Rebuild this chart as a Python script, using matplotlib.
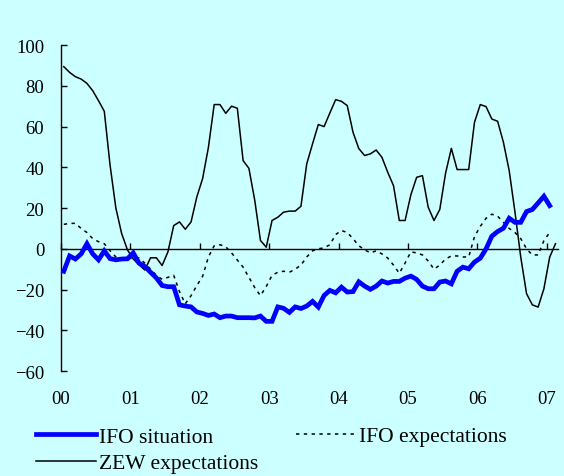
import matplotlib
matplotlib.use("Agg")
import matplotlib.pyplot as plt
import numpy as np

# Monthly data, Jan 2000 onwards
ifo_situation = [-11, -3.5, -5, -2.5, 2.5, -2.5, -5.4, -1, -4.8, -5.4, -5, -4.9,
                 -2, -7, -8.7, -11.5, -14.3, -18, -18.6, -18.6, -27.5, -28.1, -28.5, -31,
                 -31.7, -32.7, -32, -33.8, -33, -33, -33.8, -33.8, -33.8, -33.9, -33, -35.6,
                 -35.6, -28.5, -29.2, -31.2, -28.5, -29.3, -28.1, -25.8, -28.6, -22.9, -20.4, -21.6,
                 -18.8, -21.2, -21, -16.2, -18.3, -19.9, -18.3, -15.8, -16.8, -16, -16, -14.4,
                 -13.4, -15, -18.3, -19.6, -19.6, -16.3, -15.8, -17.2, -11, -9, -9.8, -6.5,
                 -4.6, 0, 6.2, 8.5, 10.1, 15, 13, 13, 18.3, 19.3, 22.5, 25.8,
                 21.2]
ifo_expectations = [12, 12.5, 12.5, 10, 8, 5, 3.5, 2.5, -1, -4, -5, -5,
                    -4.5, -4.5, -7, -10, -13, -15, -14, -13, -21, -27, -23, -18,
                    -13.5, -4, 1.5, 2, 1, -2, -5.5, -9, -14, -19, -23, -18.5,
                    -13, -11.5, -11, -11.5, -10, -8, -4, -1, 0, 0.5, 2, 7,
                    9, 8, 5, 1.5, -0.5, -2, -1, -2.5, -4.5, -8, -12, -7,
                    -1.5, -2, -3, -6, -10, -8, -5, -3.5, -3.5, -4, -4, 6,
                    11, 15, 17, 16, 13, 10, 8, 5, 0, -3, -3, 4,
                    8]
zew_expectations = [89.4, 86.6, 84.5, 83.3, 81.2, 77.6, 72.7, 67.5, 41, 20, 7.5, -0.5,
                    -5, -7.8, -10.4, -4.4, -4.4, -8.2, -1.5, 11.4, 13.2, 9.6, 13.2, 25.5,
                    34.5, 49.8, 70.8, 70.8, 66.5, 70, 69, 43.3, 39.5, 24, 4.1, 0.8,
                    13.9, 15.5, 18, 18.5, 18.5, 20.9, 41.7, 51.5, 61, 60, 66.7, 73.2,
                    72.4, 70.3, 57.2, 49.2, 45.8, 46.6, 48.5, 44.9, 37.6, 31, 13.9, 13.9,
                    26.5, 35.1, 35.9, 20.4, 13.9, 19.3, 37.1, 49.3, 38.9, 38.9, 38.9, 62.1,
                    70.8, 69.8, 63.7, 62.6, 52.3, 38.4, 18, -4.1, -22, -27.5, -28.6, -19.6,
                    -4.1, 2.5]
year_labels = ["00", "01", "02", "03", "04", "05", "06", "07"]

bg = "#CCFFFF"
plt.rcParams['font.family'] = ['Liberation Serif', 'DejaVu Serif']

fig = plt.figure(figsize=(5.64, 4.77), dpi=100, facecolor=bg)
ax = fig.add_axes([0.108, 0.220, 0.882, 0.6834])
ax.set_facecolor(bg)

x_sit = np.arange(len(ifo_situation)) + 0.5
x_exp = np.arange(len(ifo_expectations)) + 0.5
x_zew = np.arange(len(zew_expectations)) + 0.5

l1, = ax.plot(x_sit, ifo_situation, color="#0000FF", lw=3.4, solid_joinstyle='miter',
              label="IFO situation", zorder=3)
l2, = ax.plot(x_exp, ifo_expectations, color="black", lw=1.1, dashes=(2.2, 2.9),
              label="IFO expectations", zorder=2)
l3, = ax.plot(x_zew, zew_expectations, color="black", lw=1.1, label="ZEW expectations", zorder=2)

ax.set_xlim(0, 86)
ax.set_ylim(-60, 100)
ax.set_yticks(np.arange(-60, 101, 20))
ax.set_xticks(np.arange(0, 85, 12))
ax.set_xticklabels(year_labels)

for s in ['top', 'right']:
    ax.spines[s].set_visible(False)
ax.spines['bottom'].set_position(('data', 0))
ax.spines['bottom'].set_linewidth(1.0)
ax.spines['left'].set_linewidth(1.0)
ax.tick_params(axis='y', direction='in', length=4, width=1.0, pad=12, labelsize=13.5)
ax.tick_params(axis='x', direction='in', length=4, width=1.0, pad=102, labelsize=13.5)

fs = 15.5
legA = fig.legend([l1, l3], ["IFO situation", "ZEW expectations"],
                  loc='center left', bbox_to_anchor=(0.064, 1 - 451 / 477),
                  frameon=False, fontsize=fs, handlelength=2.8, handletextpad=0.1,
                  labelspacing=0.3, borderpad=0.0, borderaxespad=0.0)
legB = fig.legend([l2], ["IFO expectations"],
                  loc='center left', bbox_to_anchor=(0.525, 1 - 437 / 477),
                  frameon=False, fontsize=fs, handlelength=2.8, handletextpad=0.1,
                  borderpad=0.0, borderaxespad=0.0)

fig.savefig("out.png", dpi=100, facecolor=bg)
